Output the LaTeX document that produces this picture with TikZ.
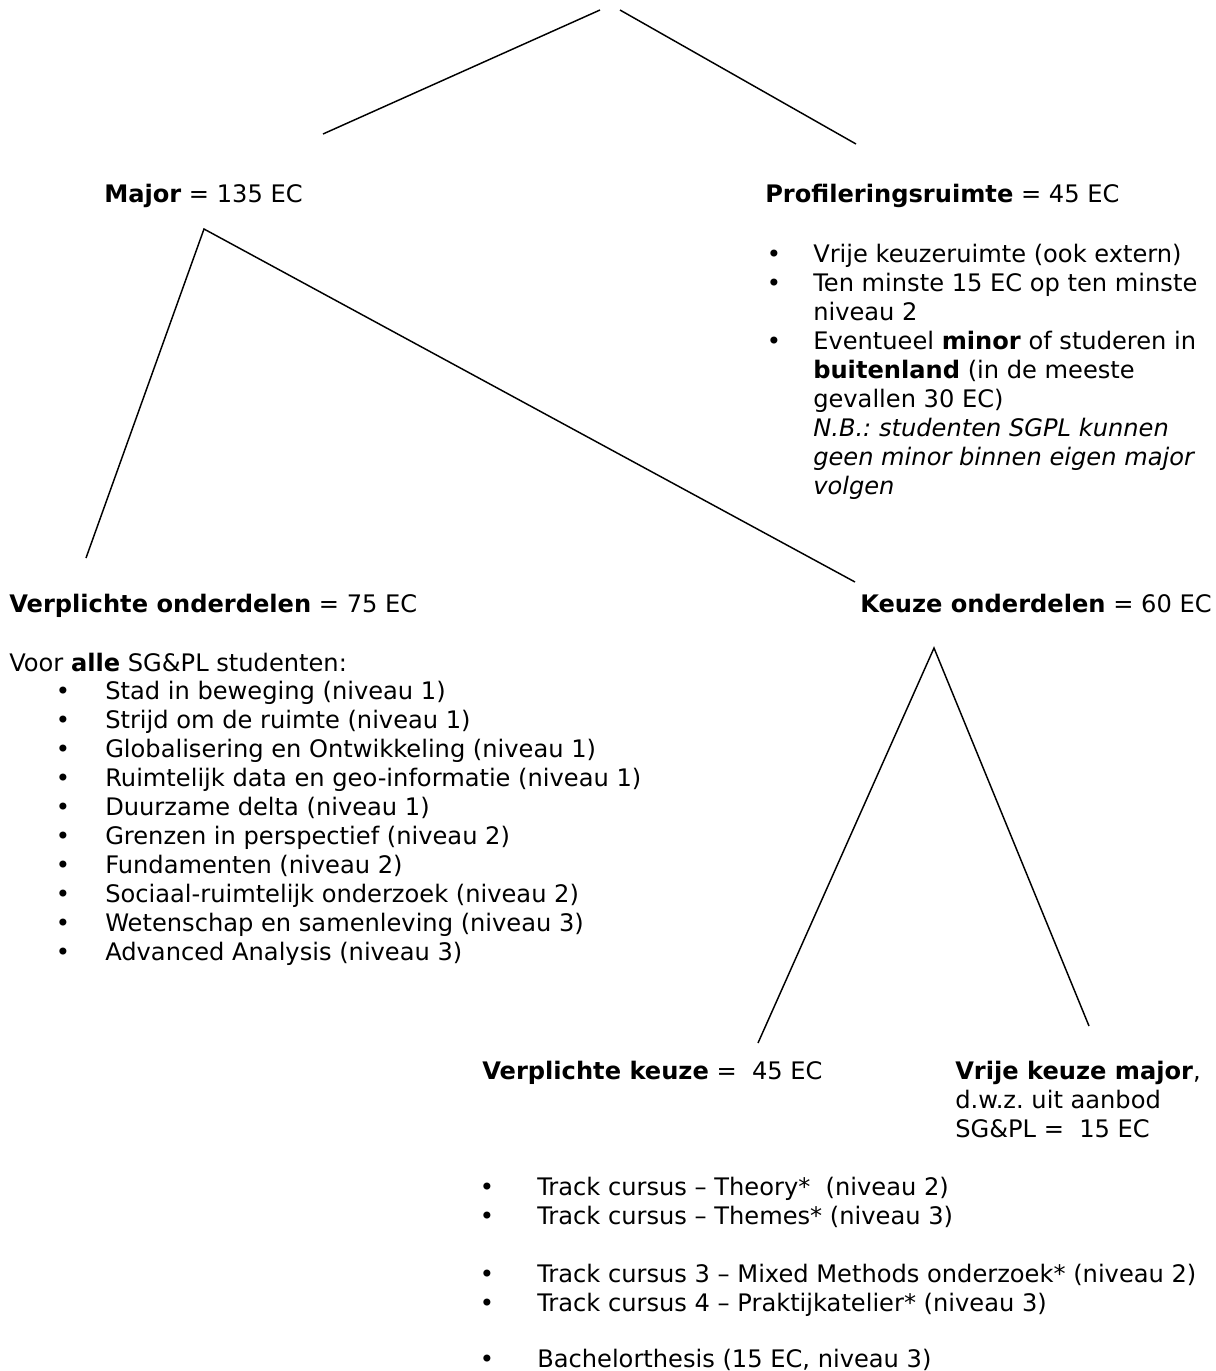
\documentclass[tikz,border=0pt]{standalone}
\usepackage{fontspec}
\setmainfont{DejaVu Sans}
\newcommand\fsz{\fontsize{18.1pt}{21.75pt}\selectfont}
\tikzset{
  txt/.style={anchor=base west, inner sep=0pt, font=\fsz},
  bul/.style={anchor=base, inner sep=0pt, font=\fsz},
  conn/.style={line width=1.1pt, line cap=butt, black}
}
\begin{document}
\frenchspacing
\begin{tikzpicture}[x=0.75pt, y=-0.75pt]
\useasboundingbox (0,0) rectangle (1215,1371);

% ---- level 1
\node[txt] (major) at (104,202) {\textbf{Major} = 135 EC};
\node[txt] (prof) at (765,202) {\textbf{Profileringsruimte} = 45 EC};

% ---- profileringsruimte list
\foreach \t [count=\i] in {
  {Vrije keuzeruimte (ook extern)},
  {Ten minste 15 EC op ten minste},
  {niveau 2},
  {Eventueel \textbf{minor} of studeren in},
  {\textbf{buitenland} (in de meeste},
  {gevallen 30 EC)},
  {\textit{N.B.: studenten SGPL kunnen}},
  {\textit{geen minor binnen eigen major}},
  {\textit{volgen}}}
  \node[txt] (p\i) at (813,{262+29*(\i-1)}) {\frenchspacing\t};
\foreach \j/\yy in {1/262,2/291,3/349}
  \node[bul] (pb\j) at (774,\yy) {•};

% ---- level 2
\node[txt] (verpl) at (9,612) {\textbf{Verplichte onderdelen} = 75 EC};
\node[txt] (keuze) at (860,612) {\textbf{Keuze onderdelen} = 60 EC};
\node[txt] (voor) at (9,671) {Voor \textbf{alle} SG\&PL studenten:};

\foreach \t [count=\i] in {
  {Stad in beweging (niveau 1)},
  {Strijd om de ruimte (niveau 1)},
  {Globalisering en Ontwikkeling (niveau 1)},
  {Ruimtelijk data en geo-informatie (niveau 1)},
  {Duurzame delta (niveau 1)},
  {Grenzen in perspectief (niveau 2)},
  {Fundamenten (niveau 2)},
  {Sociaal-ruimtelijk onderzoek (niveau 2)},
  {Wetenschap en samenleving (niveau 3)},
  {Advanced Analysis (niveau 3)}}
{
  \node[bul] (vb\i) at (63,{699+29*(\i-1)}) {•};
  \node[txt] (v\i) at (105,{699+29*(\i-1)}) {\t};
}

% ---- level 3
\node[txt] (vk) at (482,1079) {\textbf{Verplichte keuze} =\ \ 45 EC};
\node[txt] (vrij1) at (955,1079) {\textbf{Vrije keuze major},};
\node[txt] (vrij2) at (955,1108) {\frenchspacing d.w.z. uit aanbod};
\node[txt] (vrij3) at (955,1137) {SG\&PL =\ \ 15 EC};

\foreach \t/\yy [count=\i] in {
  {Track cursus – Theory*\ \ (niveau 2)}/1195,
  {Track cursus – Themes* (niveau 3)}/1224,
  {Track cursus 3 – Mixed Methods onderzoek* (niveau 2)}/1282,
  {Track cursus 4 – Praktijkatelier* (niveau 3)}/1311,
  {Bachelorthesis (15 EC, niveau 3)}/1367}
{
  \node[bul] (tb\i) at (487,\yy) {•};
  \node[txt] (t\i) at (537,\yy) {\t};
}

% ---- connector end points
\coordinate (topL) at (600,10);
\coordinate (topR) at (620,10);
\coordinate (majorIn) at (323,134);
\coordinate (profIn) at (856,144);
\coordinate (majorOut) at (204,229);
\coordinate (verplIn) at (86,558);
\coordinate (keuzeIn) at (855,582);
\coordinate (keuzeOut) at (934,648);
\coordinate (vkIn) at (758,1043);
\coordinate (vrijIn) at (1089,1026);

\draw[conn] (topL) -- (majorIn);
\draw[conn] (topR) -- (profIn);
\draw[conn] (verplIn) -- (majorOut) -- (keuzeIn);
\draw[conn] (vkIn) -- (keuzeOut) -- (vrijIn);
\end{tikzpicture}
\end{document}
